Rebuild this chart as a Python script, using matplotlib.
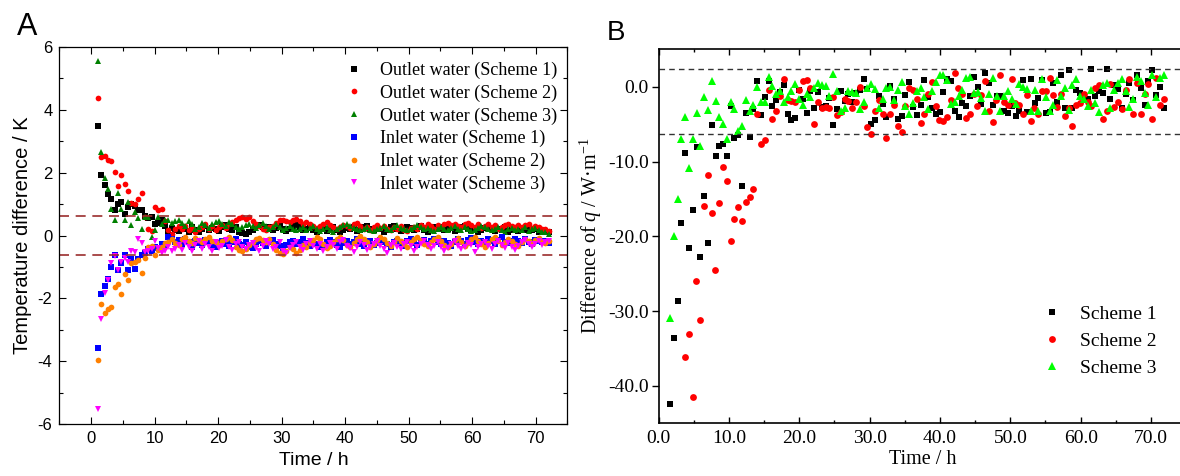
import numpy as np
import matplotlib
matplotlib.use('Agg')
import matplotlib.pyplot as plt
from matplotlib.ticker import MultipleLocator, FormatStrFormatter

plt.rcParams['axes.unicode_minus'] = False
plt.rcParams['mathtext.fontset'] = 'custom'
plt.rcParams['mathtext.rm'] = 'Liberation Serif'
plt.rcParams['mathtext.it'] = 'Liberation Serif:italic'

# ---------------- panel A : temperature difference (K) ----------------
# sampled every 0.53 h starting at 1.05 h
a_t0, a_dt = 1.05, 0.53

outlet_s1 = [3.48, 1.93, 1.59, 1.32, 1.17, 0.80, 1.00, 1.06, 0.69, 0.90,
             1.00, 0.94, 0.80, 0.80, 0.62, 0.55, 0.60, 0.36, 0.39, 0.50,
             0.30, 0.13, 0.23, 0.18,
             0.15, 0.25, 0.20, 0.12, 0.28, 0.18, 0.10, 0.22, 0.30, 0.16,
             0.24, 0.20, 0.14, 0.26, 0.32, 0.22, 0.18, 0.28, 0.12, 0.08,
             0.06, 0.10, 0.16, 0.30, 0.34, 0.28, 0.20, 0.26, 0.18, 0.24,
             0.30, 0.22, 0.14, 0.20, 0.26, 0.32, 0.28, 0.18, 0.22, 0.30,
             0.16, 0.12, 0.20, 0.26, 0.14, 0.22, 0.28, 0.18, 0.10, 0.16,
             0.24, 0.20, 0.28, 0.14, 0.18, 0.26, 0.30, 0.22, 0.16, 0.24,
             0.20, 0.12, 0.18, 0.26, 0.30, 0.22, 0.14, 0.20, 0.28, 0.24,
             0.16, 0.22, 0.30, 0.18, 0.12, 0.20, 0.26, 0.22, 0.28, 0.16,
             0.20, 0.24, 0.14, 0.18, 0.26, 0.30, 0.22, 0.16, 0.20, 0.12,
             0.18, 0.24, 0.28, 0.20, 0.14, 0.22, 0.18, 0.26, 0.10, 0.16,
             0.20, 0.14, 0.22, 0.18, 0.24, 0.16, 0.20, 0.12, 0.18, 0.14,
             0.10]
outlet_s2 = [4.36, 2.48, 2.54, 2.40, 2.36, 2.03, 1.58, 1.91, 1.63, 1.40,
             1.03, 1.00, 1.15, 1.35, 0.60, 0.21, 0.15, 0.90, 0.82, 0.85,
             0.45, 0.18, 0.05, 0.20, 0.30,
             0.22, 0.30, 0.18, 0.25, 0.12, 0.20, 0.28, 0.35, 0.22, 0.30,
             0.18, 0.26, 0.32, 0.24, 0.36, 0.42, 0.50, 0.55, 0.58, 0.52,
             0.60, 0.45, 0.38, 0.30, 0.22, 0.18, 0.26, 0.30, 0.40, 0.48,
             0.50, 0.46, 0.42, 0.50, 0.52, 0.45, 0.38, 0.42, 0.35, 0.30,
             0.24, 0.30, 0.38, 0.42, 0.32, 0.26, 0.20, 0.28, 0.34, 0.30,
             0.24, 0.36, 0.40, 0.30, 0.22, 0.28, 0.18, 0.26, 0.32, 0.24,
             0.30, 0.20, 0.16, 0.26, 0.22, 0.30, 0.18, 0.14, 0.24, 0.28,
             0.20, 0.32, 0.26, 0.38, 0.30, 0.22, 0.34, 0.28, 0.36, 0.40,
             0.34, 0.38, 0.30, 0.26, 0.36, 0.40, 0.32, 0.28, 0.38, 0.24,
             0.30, 0.36, 0.26, 0.32, 0.22, 0.28, 0.34, 0.38, 0.30, 0.26,
             0.34, 0.28, 0.32, 0.38, 0.24, 0.30, 0.26, 0.20, 0.22, 0.14]
outlet_s3 = [5.56, 2.65, 1.84, 1.47, 0.85, 0.50, 1.34, 0.84, 0.50, 1.08,
             0.34, 0.74, 0.55, 0.20, 0.60, 0.58, -0.06, 0.18, 0.60, 0.37,
             0.50, 0.50, 0.39, 0.45, 0.50,
             0.40, 0.30, 0.45, 0.35, 0.22, 0.28, 0.40, 0.32, 0.25, 0.36,
             0.42, 0.46, 0.38, 0.30, 0.44, 0.36, 0.28, 0.20, 0.26, 0.32,
             0.38, 0.30, 0.24, 0.34, 0.40, 0.30, 0.22, 0.28, 0.36, 0.26,
             0.18, 0.24, 0.30, 0.20, 0.16, 0.22, 0.28, 0.18, 0.24, 0.30,
             0.20, 0.14, 0.22, 0.26, 0.18, 0.12, 0.20, 0.28, 0.34, 0.38,
             0.30, 0.24, 0.20, 0.16, 0.22, 0.28, 0.18, 0.14, 0.20, 0.24,
             0.30, 0.22, 0.18, 0.26, 0.32, 0.24, 0.20, 0.16, 0.22, 0.28,
             0.34, 0.26, 0.20, 0.24, 0.18, 0.14, 0.22, 0.28, 0.20, 0.16,
             0.24, 0.30, 0.22, 0.18, 0.26, 0.20, 0.14, 0.18, 0.24, 0.30,
             0.26, 0.20, 0.16, 0.22, 0.28, 0.18, 0.12, 0.20, 0.24, 0.16,
             0.22, 0.18, 0.26, 0.14, 0.20, 0.24, 0.16, 0.12, 0.10, 0.06]
inlet_s1 = [-3.58, -1.86, -1.60, -1.39, -0.99, -0.61, -1.11, -0.88, -0.61, -1.09,
            -0.75, -1.07, -0.75, -0.61, -0.55, -0.43, -0.50, -0.37, -0.40, -0.26,
            -0.30, -0.05, -0.12, -0.20, -0.15,
            -0.28, -0.10, -0.22, -0.35, -0.18, -0.25, -0.30, -0.14, -0.20, -0.32,
            -0.38, -0.24, -0.16, -0.28, -0.34, -0.20, -0.12, -0.26, -0.30, -0.22,
            -0.36, -0.40, -0.28, -0.18, -0.24, -0.32, -0.20, -0.14, -0.26, -0.34,
            -0.42, -0.30, -0.22, -0.16, -0.28, -0.20, -0.12, -0.24, -0.32, -0.18,
            -0.26, -0.38, -0.30, -0.20, -0.14, -0.22, -0.30, -0.36, -0.24, -0.16,
            -0.28, -0.20, -0.12, -0.26, -0.34, -0.22, -0.18, -0.30, -0.24, -0.14,
            -0.20, -0.28, -0.36, -0.22, -0.16, -0.26, -0.32, -0.18, -0.12, -0.24,
            -0.30, -0.20, -0.14, -0.26, -0.18, -0.10, -0.22, -0.28, -0.16, -0.24,
            -0.32, -0.20, -0.12, -0.18, -0.26, -0.14, -0.08, -0.20, -0.28, -0.16,
            -0.22, -0.12, -0.18, -0.26, -0.14, -0.06, -0.20, -0.24, -0.16, -0.10,
            -0.18, -0.24, -0.12, -0.20, -0.26, -0.14, -0.18, -0.22, -0.16, -0.24]
inlet_s2 = [-3.95, -2.17, -2.45, -2.34, -2.26, -1.64, -1.54, -1.85, -1.23, -1.43,
            -0.88, -0.83, -0.77, -1.20, -0.72, -0.35, -0.33, -0.61, -0.46, -0.38,
            -0.24, -0.20, -0.12, -0.25, -0.30,
            -0.10, -0.05, -0.18, -0.25, -0.08, -0.14, -0.20, -0.12, -0.06, -0.16,
            -0.22, -0.30, -0.18, -0.10, -0.05, -0.15, -0.35, -0.45, -0.50, -0.42,
            -0.30, -0.22, -0.12, -0.08, -0.15, -0.20, -0.10, -0.28, -0.45, -0.55,
            -0.60, -0.48, -0.35, -0.42, -0.55, -0.45, -0.30, -0.38, -0.25, -0.15,
            -0.05, -0.12, -0.28, -0.40, -0.32, -0.20, -0.10, -0.04, -0.15, -0.30,
            -0.38, -0.25, -0.12, -0.02, -0.10, -0.22, -0.35, -0.28, -0.15, -0.05,
            -0.12, -0.25, -0.32, -0.20, -0.08, -0.16, -0.28, -0.35, -0.22, -0.10,
            -0.04, -0.14, -0.26, -0.34, -0.22, -0.12, -0.06, -0.18, -0.30, -0.38,
            -0.26, -0.14, -0.08, -0.20, -0.32, -0.24, -0.12, -0.04, -0.16, -0.28,
            -0.36, -0.24, -0.12, -0.06, -0.18, -0.30, -0.22, -0.10, -0.16, -0.28,
            -0.34, -0.20, -0.10, -0.18, -0.26, -0.14, -0.08, -0.20, -0.24, -0.16]
inlet_s3 = [-5.52, -2.66, -1.83, -1.41, -0.88, -0.65, -1.09, -0.83, -0.72, -0.85,
            -0.48, -0.54, -0.12, -0.24, -0.51, -0.48, -0.43, -0.17, -0.40, -0.56,
            -0.48, -0.35, -0.50, -0.42, -0.30,
            -0.45, -0.25, -0.38, -0.50, -0.30, -0.18, -0.42, -0.28, -0.35, -0.48,
            -0.22, -0.40, -0.32, -0.15, -0.38, -0.46, -0.28, -0.20, -0.36, -0.44,
            -0.30, -0.24, -0.40, -0.50, -0.34, -0.18, -0.28, -0.42, -0.36, -0.22,
            -0.48, -0.55, -0.40, -0.30, -0.20, -0.36, -0.46, -0.28, -0.16, -0.34,
            -0.42, -0.26, -0.50, -0.38, -0.24, -0.30, -0.44, -0.20, -0.14, -0.32,
            -0.40, -0.52, -0.36, -0.22, -0.30, -0.46, -0.38, -0.26, -0.18, -0.34,
            -0.42, -0.55, -0.30, -0.24, -0.36, -0.44, -0.28, -0.20, -0.32, -0.48,
            -0.38, -0.26, -0.16, -0.30, -0.42, -0.34, -0.22, -0.36, -0.50, -0.40,
            -0.28, -0.18, -0.32, -0.44, -0.36, -0.24, -0.30, -0.52, -0.38, -0.26,
            -0.20, -0.34, -0.42, -0.28, -0.18, -0.30, -0.40, -0.24, -0.36, -0.46,
            -0.32, -0.22, -0.14, -0.28, -0.38, -0.26, -0.18, -0.30, -0.22, -0.16]
a_limit = 0.62

# ---------------- panel B : difference of q (W/m) ----------------
# sampled every 0.54 h; scheme 2 only visible from 3.75 h
b_dt = 0.54
b_t0 = [1.6, 3.75, 1.6]
q_s1 = [-42.4, -33.6, -28.7, -18.2, -8.9, -21.6, -16.5, -8.0, -22.8, -14.6,
        -20.9, -5.1, -9.2, -7.9, -7.6, -9.2, -2.6, -6.9, -6.4, -13.3,
        -3.5, -6.7, -3.0, 0.7, -3.8, -1.4, 0.8, -2.6, -1.8, -0.7,
        0.2, -3.7, -4.4,
        -4.2, -0.5, -1.6, -3.5, -0.6, -2.9, -0.7, -2.7, -2.6, -1.5,
        -5.1, -3.0, -0.6, -1.9, -1.0, -2.0, -0.8, -0.5, 1.0, -0.3,
        -5.0, -4.5, -1.2, -2.3, -4.0, 0.1, -1.7, -4.3, -3.9, -1.1,
        0.6, -2.7, -3.8, -2.5, 0.9, -1.4, -2.8, -3.6, -3.4, -0.7,
        1.0, 0.7, -3.3, -4.0, -2.2, -2.6, -1.2, 1.3, -0.1, -2.3,
        1.9, 0.5, -2.5, -1.2, -1.3, -3.3, -3.5, -2.6, -3.9, -3.3,
        0.9, -3.4, 1.0, -2.2, -1.5, 0.9, -3.5, -3.4, 0.5, -2.0,
        1.6, -2.8, 2.3, -2.9, -0.5, -0.9, -1.4, -1.6, 2.4, -1.3,
        -0.6, -0.9, 2.4, -1.6, 0.2, -0.3, -2.9, -1.0, 0.5, -1.8,
        1.5, -0.2, -2.4, 0.8, 2.2, -1.1, 0.0, -2.9]
q_s2 = [-36.2, -33.1, -41.5, -26.0, -31.2, -15.9, -11.8, -16.9, -24.5, -15.5,
        -10.8, -12.6, -20.6, -17.7, -16.1, -17.9, -15.4, -14.8, -13.7, -3.7,
        -7.6, -7.1, -0.4, -4.3, -3.2,
        -1.3, 1.0, -1.8, -1.9, -2.0, -0.5, 0.8, 0.9, -0.2, -5.0,
        -2.1, -2.8, -2.7, -2.9, -1.4, -3.8, -3.4, -1.6, -1.9, -2.8,
        -2.1, -0.1, -2.6, -5.4, -6.3, -3.3, -1.8, -3.6, -6.8, -3.7,
        -2.5, -5.2, -6.0, -2.6, -0.2, -0.4, -1.7, -4.9, -3.6, -1.0,
        0.6, -2.6, -4.5, -4.6, -4.0, -1.8, 1.8, -0.2, -1.0, -4.2,
        -3.6, -1.0, -2.6, -1.1, 0.8, -3.2, -4.7, -1.8, 1.5, -2.0,
        -2.5, 1.0, -2.2, -2.4, -3.6, -1.1, -4.6, -2.9, -3.6, -0.6,
        -0.6, 1.2, -1.1, -2.7, -1.0, -3.9, -2.9, -5.3, -2.4, -2.2,
        -1.0, -2.0, -2.6, -0.2, 0.2, -4.3, -3.2, 0.4, -2.7, -2.0,
        -3.0, -0.4, 1.0, -3.6, 0.5, -3.6, -1.0, 0.4, -4.3, 1.2,
        -2.4, -1.6]
q_s3 = [-30.9, -20.0, -15.0, -7.0, -4.0, -10.9, -7.0, -3.5, -7.9, -1.4,
        -3.1, 0.8, -1.9, -4.0, -5.0, -7.0, -2.0, -3.0, -5.9, -5.2,
        -1.8, -3.3, -2.4, -0.05, -2.0, -2.0, 1.35, 0.1,
        -1.0, -0.6, -2.0, -1.4, -0.6, 0.3, -1.6, -2.4, -1.0, -1.4,
        -0.2, 0.5, 0.2, 0.1, -1.3, 1.7, -0.6, -3.2, -2.8, -0.6,
        -0.7, -0.8, -3.0, -2.1, -0.2, 0.4, -0.3, -2.9, -1.6, -0.2,
        0.0, -1.8, -0.4, 0.6, -2.6, -3.6, -2.2, -0.6, -0.2, -1.4,
        -3.0, -0.6, 0.6, 1.5, 1.5, 0.9, -2.3, -2.1, -1.3, -0.4,
        1.2, 1.3, -0.8, -0.7, -1.5, -3.3, -1.0, 1.2, -1.2, -3.2,
        -1.2, -0.6, -1.7, -2.3, 0.4, 0.0, -0.3, -3.3, -0.4, -3.2,
        1.0, -1.4, -3.3, -2.5, 0.9, -1.2, -0.2, -3.1, 0.2, 1.0,
        -1.3, -1.6, -2.6, -0.4, -2.2, -3.4, 0.2, 0.5, -2.8, -0.4,
        0.5, 1.0, -0.6, -2.7, -1.6, 1.3, 0.8, -0.9, -2.5, 1.6,
        -1.4, 1.1, 1.6]
b_upper, b_lower = 2.4, -6.3


def times(t0, dt, vals):
    return t0 + dt * np.arange(len(vals))


fig = plt.figure(figsize=(11.8, 4.76), dpi=100)

# ----- panel A
ax1 = fig.add_axes([0.0503, 0.1086, 0.4305, 0.7933])
series_a = [
    (outlet_s1, 's', 'black', 3.7, 'Outlet water (Scheme 1)'),
    (outlet_s2, 'o', 'red', 4.1, 'Outlet water (Scheme 2)'),
    (outlet_s3, '^', '#008000', 4.6, 'Outlet water (Scheme 3)'),
    (inlet_s1, 's', 'blue', 3.7, 'Inlet water (Scheme 1)'),
    (inlet_s2, 'o', '#FF8000', 4.1, 'Inlet water (Scheme 2)'),
    (inlet_s3, 'v', 'magenta', 4.6, 'Inlet water (Scheme 3)'),
]
for vals, mk, col, ms, lab in series_a:
    ax1.plot(times(a_t0, a_dt, vals), vals, linestyle='none', marker=mk,
             color=col, markersize=ms, markeredgewidth=0, label=lab)
for y in (a_limit, -a_limit):
    ax1.axhline(y, color='#9B2D2D', linestyle=(0, (6, 4)), linewidth=1.2)

ax1.set_xlim(-5, 75)
ax1.set_ylim(-6, 6)
ax1.xaxis.set_major_locator(MultipleLocator(10))
ax1.xaxis.set_minor_locator(MultipleLocator(5))
ax1.yaxis.set_major_locator(MultipleLocator(2))
ax1.yaxis.set_minor_locator(MultipleLocator(1))
ax1.tick_params(which='both', direction='in', top=True, right=True,
                labelsize=12, width=0.8)
ax1.tick_params(which='major', length=5, pad=5)
ax1.tick_params(which='minor', length=2.7)
for t in ax1.get_xticklabels() + ax1.get_yticklabels():
    t.set_family('Liberation Sans')
for s in ax1.spines.values():
    s.set_linewidth(0.9)
ax1.set_xlabel('Time / h', fontsize=14, family='Liberation Sans', labelpad=4)
ax1.set_ylabel('Temperature difference / K', fontsize=14.5,
               family='Liberation Sans', labelpad=4)
ax1.legend(loc='upper left', bbox_to_anchor=(0.562, 0.96), frameon=False,
           prop={'family': 'Liberation Serif', 'size': 13},
           handlelength=1.0, handletextpad=0.95, labelspacing=0.3,
           borderpad=0, borderaxespad=0, markerscale=1.0)

# ----- panel B
ax2 = fig.add_axes([0.5582, 0.1107, 0.4470, 0.7857])
series_b = [
    (q_s1, b_t0[0], 's', 'black', 4.5, 'Scheme 1'),
    (q_s2, b_t0[1], 'o', 'red', 4.9, 'Scheme 2'),
    (q_s3, b_t0[2], '^', '#00FF00', 5.3, 'Scheme 3'),
]
for vals, t0, mk, col, ms, lab in series_b:
    ax2.plot(times(t0, b_dt, vals), vals, linestyle='none', marker=mk,
             color=col, markersize=ms, markeredgewidth=0, label=lab)
for y in (b_upper, b_lower):
    ax2.axhline(y, color='#333333', linestyle=(0, (4, 3)), linewidth=1.0)

ax2.set_xlim(0, 75)
ax2.set_ylim(-45, 5)
ax2.xaxis.set_major_locator(MultipleLocator(10))
ax2.xaxis.set_minor_locator(MultipleLocator(5))
ax2.yaxis.set_major_locator(MultipleLocator(10))
ax2.xaxis.set_major_formatter(FormatStrFormatter('%.1f'))
ax2.yaxis.set_major_formatter(FormatStrFormatter('%.1f'))
ax2.tick_params(axis='x', which='both', direction='in', top=True,
                labelsize=14, width=1.0)
ax2.tick_params(axis='x', which='major', length=4.5, pad=5)
ax2.tick_params(axis='x', which='minor', length=2)
ax2.tick_params(axis='y', which='major', direction='out', length=5,
                labelsize=14, width=1.0, pad=2)
for t in ax2.get_xticklabels() + ax2.get_yticklabels():
    t.set_family('Liberation Serif')
for s in ax2.spines.values():
    s.set_linewidth(1.2)
ax2.set_xlabel('Time / h', fontsize=14.5, family='Liberation Serif', labelpad=2)
ax2.set_ylabel('Difference of $\\mathit{q}$ / W\u00b7m$^{-1}$', fontsize=14.5,
               family='Liberation Serif', labelpad=3)
ax2.legend(loc='upper left', bbox_to_anchor=(0.7267, 0.316), frameon=False,
           prop={'family': 'Liberation Serif', 'size': 14},
           handlelength=1.0, handletextpad=0.93, labelspacing=0.48,
           borderpad=0, borderaxespad=0)

fig.text(0.0144, 0.9265, 'A', fontsize=22, family='Liberation Sans')
fig.text(0.514, 0.916, 'B', fontsize=20, family='Liberation Sans')

fig.savefig('out.png', dpi=100)
